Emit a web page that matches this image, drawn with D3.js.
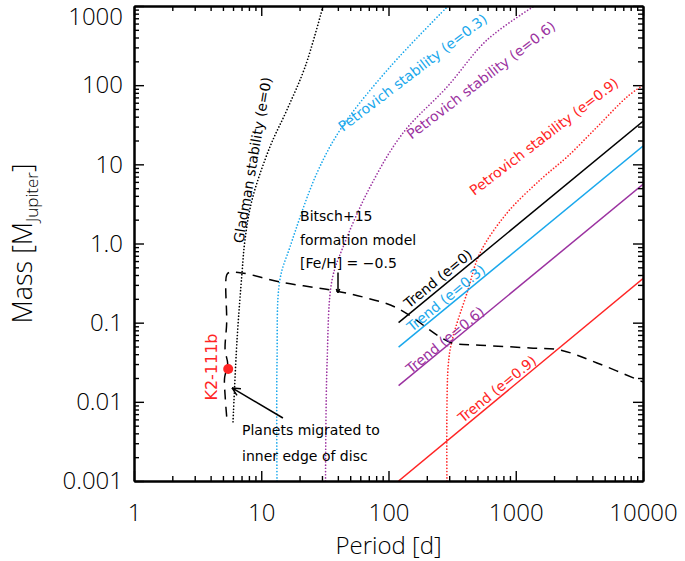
<!DOCTYPE html>
<html><head><meta charset="utf-8">
<script src="https://cdn.jsdelivr.net/npm/d3@7"></script>
<style>
body{margin:0;background:#fff;}
svg{display:block;font-family:"DejaVu Sans",sans-serif;}
</style></head><body>
<svg id="c" width="685" height="561"></svg>
<script>
// ---- data ----
const periodTicks = [1, 10, 100, 1000, 10000];
const periodTickLabels = ["1", "10", "100", "1000", "10000"];
const massTicks = [0.001, 0.01, 0.1, 1, 10, 100, 1000];
const massTickLabels = ["0.001", "0.01", "0.1", "1.0", "10", "100", "1000"];

// stability limits [period d, mass MJ]
const gladmanE0 = [[6.0,0.0056],[6.45,0.06],[7.06,0.425],[7.45,1.11],[8.46,3.55],[11.7,16.6],[15.9,48.6],[22.1,170],[30.6,1000]];
const petrovichE03 = [[13.3,0.001],[13.3,0.031],[14.0,0.346],[16.8,0.9],[27.4,7.78],[43.1,29.6],[102.8,170],[294,1000]];
const petrovichE06 = [[32,0.001],[32.9,0.031],[36,0.346],[43.9,0.9],[71.6,5.17],[130,24.9],[288,94.8],[594,372],[1400,1000]];
const petrovichE09 = [[288,0.001],[294,0.0275],[316,0.06],[414,0.237],[524,0.759],[854,2.43],[1552,6.34],[2529,12.4],[4350,29.6],[7480,71],[10000,100]];

// trends [period d, mass MJ]
const trendE0  = [[120,0.1],[10000,35]];
const trendE03 = [[120,0.049],[10000,17]];
const trendE06 = [[120,0.016],[10000,5.6]];
const trendE09 = [[120,0.001],[10000,0.36]];

// Bitsch+15 formation model track
const bitschTrack = [[5.35,0.0065],[5.2,0.012],[5.15,0.02],[5.45,0.03],[5.2,0.045],[5.35,0.1],[5.35,0.4],[5.6,0.43],[7.06,0.425],[14.0,0.327],[34.7,0.259],[63,0.211],[117,0.153],[254,0.066],[316,0.0553],[524,0.052],[1294,0.0479],[2228,0.0452],[4350,0.031],[10000,0.0178]];

// planet
const planetName = ["K2-111b"];
const planetPeriod = [5.5];
const planetMass = [0.026];

// ---- drawing ----
const BIG = "'Open Sans','DejaVu Sans',sans-serif";
const SMALL = "'DejaVu Sans',sans-serif";
const svg = d3.select("#c");
const x = d3.scaleLog().domain([1, 10000]).range([134, 643]);
const y = d3.scaleLog().domain([0.001, 1000]).range([481, 6]);

const C = {black:"#000000", cyan:"#1aa8ec", purple:"#9b32a0", red:"#ff2424"};

svg.append("defs").append("clipPath").attr("id","clip")
  .append("rect").attr("x",x.range()[0]).attr("y",y.range()[1])
  .attr("width",x.range()[1]-x.range()[0]).attr("height",y.range()[0]-y.range()[1]);

const plot = svg.append("g").attr("clip-path","url(#clip)");
const curve = d3.line().x(d=>x(d[0])).y(d=>y(d[1])).curve(d3.curveCatmullRom.alpha(0.5));
const straight = d3.line().x(d=>x(d[0])).y(d=>y(d[1]));

function dotted(data, color){
  plot.append("path").attr("d", curve(data)).attr("fill","none")
    .attr("stroke", color).attr("stroke-width",1.7).attr("stroke-linecap","round")
    .attr("stroke-dasharray","0,3.2");
}
dotted(gladmanE0, C.black);
dotted(petrovichE03, C.cyan);
dotted(petrovichE06, C.purple);
dotted(petrovichE09, C.red);

function solid(data, color){
  plot.append("path").attr("d", straight(data)).attr("fill","none")
    .attr("stroke", color).attr("stroke-width",1.5);
}
solid(trendE0, C.black);
solid(trendE03, C.cyan);
solid(trendE06, C.purple);
solid(trendE09, C.red);

plot.append("path").attr("d", curve(bitschTrack)).attr("fill","none")
  .attr("stroke","#000").attr("stroke-width",1.5).attr("stroke-dasharray","10,7");

// planet point
plot.selectAll("circle.pl").data(planetPeriod).join("circle")
  .attr("cx",(d)=>x(d)).attr("cy",(d,i)=>y(planetMass[i])).attr("r",5).attr("fill",C.red);

// ---- labels on curves ----
const curveLabels = [
  {t:"Gladman stability (e=0)", p:8.54, m:11.35, a:-80.2, c:C.black},
  {t:"Petrovich stability (e=0.3)", p:154.5, m:144.5, a:-37.4, c:C.cyan},
  {t:"Petrovich stability (e=0.6)", p:533, m:116, a:-37.6, c:C.purple},
  {t:"Petrovich stability (e=0.9)", p:1667, m:22.5, a:-37.4, c:C.red},
  {t:"Trend (e=0)", p:245, m:0.361, a:-39.3, c:C.black},
  {t:"Trend (e=0.3)", p:283, m:0.205, a:-39.3, c:C.cyan},
  {t:"Trend (e=0.6)", p:278, m:0.0604, a:-39.3, c:C.purple},
  {t:"Trend (e=0.9)", p:713, m:0.01453, a:-39.3, c:C.red},
  {t:"K2-111b", p:4.10, m:0.0275, a:-90, c:C.red, fs:16}
];
svg.selectAll("text.cl").data(curveLabels).join("text").attr("class","cl")
  .attr("transform",d=>`translate(${x(d.p)},${y(d.m)}) rotate(${d.a})`)
  .attr("text-anchor","middle").attr("dominant-baseline","central")
  .attr("font-family",SMALL)
  .attr("font-size",d=>(d.fs||14)+"px").attr("fill",d=>d.c).text(d=>d.t);

// annotations
const notes = [
  {t:"Bitsch+15", p:20.2, m:2.23},
  {t:"formation model", p:20.2, m:1.107},
  {t:"[Fe/H] = \u22120.5", p:20.2, m:0.567},
  {t:"Planets migrated to", p:7.06, m:0.0044},
  {t:"inner edge of disc", p:7.06, m:0.00205}
];
svg.selectAll("text.nt").data(notes).join("text").attr("class","nt")
  .attr("x",d=>x(d.p)).attr("y",d=>y(d.m)).attr("dominant-baseline","central")
  .attr("font-family",SMALL)
  .attr("font-size","14px").attr("fill","#000").text(d=>d.t);

// arrows
const arrows = [
  {from:[14.8,0.00625], to:[5.89,0.015], h:9},
  {from:[40.1,0.43], to:[40.1,0.24], h:4}
];
arrows.forEach(a=>{
  const x1=x(a.from[0]), y1=y(a.from[1]), x2=x(a.to[0]), y2=y(a.to[1]);
  const ang=Math.atan2(y2-y1,x2-x1);
  svg.append("line").attr("x1",x1).attr("y1",y1).attr("x2",x2).attr("y2",y2)
    .attr("stroke","#000").attr("stroke-width",1.5);
  [0.45,-0.45].forEach(s=>{
    svg.append("line").attr("x1",x2).attr("y1",y2)
      .attr("x2",x2-a.h*Math.cos(ang+s)).attr("y2",y2-a.h*Math.sin(ang+s))
      .attr("stroke","#000").attr("stroke-width",1.5);
  });
});

// ---- axes ----
const minorP = [], minorM = [];
[1,10,100,1000].forEach(dec=>{for(let k=2;k<=9;k++) minorP.push(dec*k);});
[0.001,0.01,0.1,1,10,100].forEach(dec=>{for(let k=2;k<=9;k++) minorM.push(dec*k);});

const X0=x.range()[0], X1=x.range()[1], Y0=y.range()[0], Y1=y.range()[1];
function ax(gen, tr){
  const g = svg.append("g").attr("transform",tr).call(gen);
  g.select(".domain").attr("stroke-width",2);
  g.selectAll(".tick line").attr("stroke-width",1.4);
  g.selectAll("text").attr("font-size","24px").attr("fill","#000")
    .attr("font-family",BIG).attr("font-weight",300);
  return g;
}
ax(d3.axisBottom(x).tickValues(minorP).tickFormat("").tickSize(-5).tickSizeOuter(0), `translate(0,${Y0})`);
ax(d3.axisTop(x).tickValues(minorP).tickFormat("").tickSize(-5).tickSizeOuter(0), `translate(0,${Y1})`);
ax(d3.axisLeft(y).tickValues(minorM).tickFormat("").tickSize(-5).tickSizeOuter(0), `translate(${X0},0)`);
ax(d3.axisRight(y).tickValues(minorM).tickFormat("").tickSize(-5).tickSizeOuter(0), `translate(${X1},0)`);
ax(d3.axisBottom(x).tickValues(periodTicks).tickFormat((d,i)=>periodTickLabels[i]).tickSize(-10).tickSizeOuter(0).tickPadding(23), `translate(0,${Y0})`);
ax(d3.axisTop(x).tickValues(periodTicks).tickFormat("").tickSize(-10).tickSizeOuter(0), `translate(0,${Y1})`);
const gl = ax(d3.axisLeft(y).tickValues(massTicks).tickFormat((d,i)=>massTickLabels[i]).tickSize(-10).tickSizeOuter(0).tickPadding(11), `translate(${X0},0)`);
gl.selectAll(".tick text").filter(d=>d===1000).attr("dy","0.78em");
ax(d3.axisRight(y).tickValues(massTicks).tickFormat("").tickSize(-10).tickSizeOuter(0), `translate(${X1},0)`);

// axis titles
svg.append("text").attr("x",(X0+X1)/2).attr("y",554).attr("text-anchor","middle")
  .attr("font-family",BIG).attr("font-weight",300)
  .attr("font-size","24px").attr("fill","#000").text("Period [d]");
const yt = svg.append("text").attr("transform",`translate(32,${(Y0+Y1)/2}) rotate(-90)`)
  .attr("font-family",BIG).attr("font-weight",300)
  .attr("text-anchor","middle").attr("font-size","27px").attr("fill","#000");
yt.append("tspan").text("Mass [M");
yt.append("tspan").attr("dy",6).attr("font-size","17px").text("Jupiter");
yt.append("tspan").attr("dy",-6).text("]");
</script>
</body></html>
